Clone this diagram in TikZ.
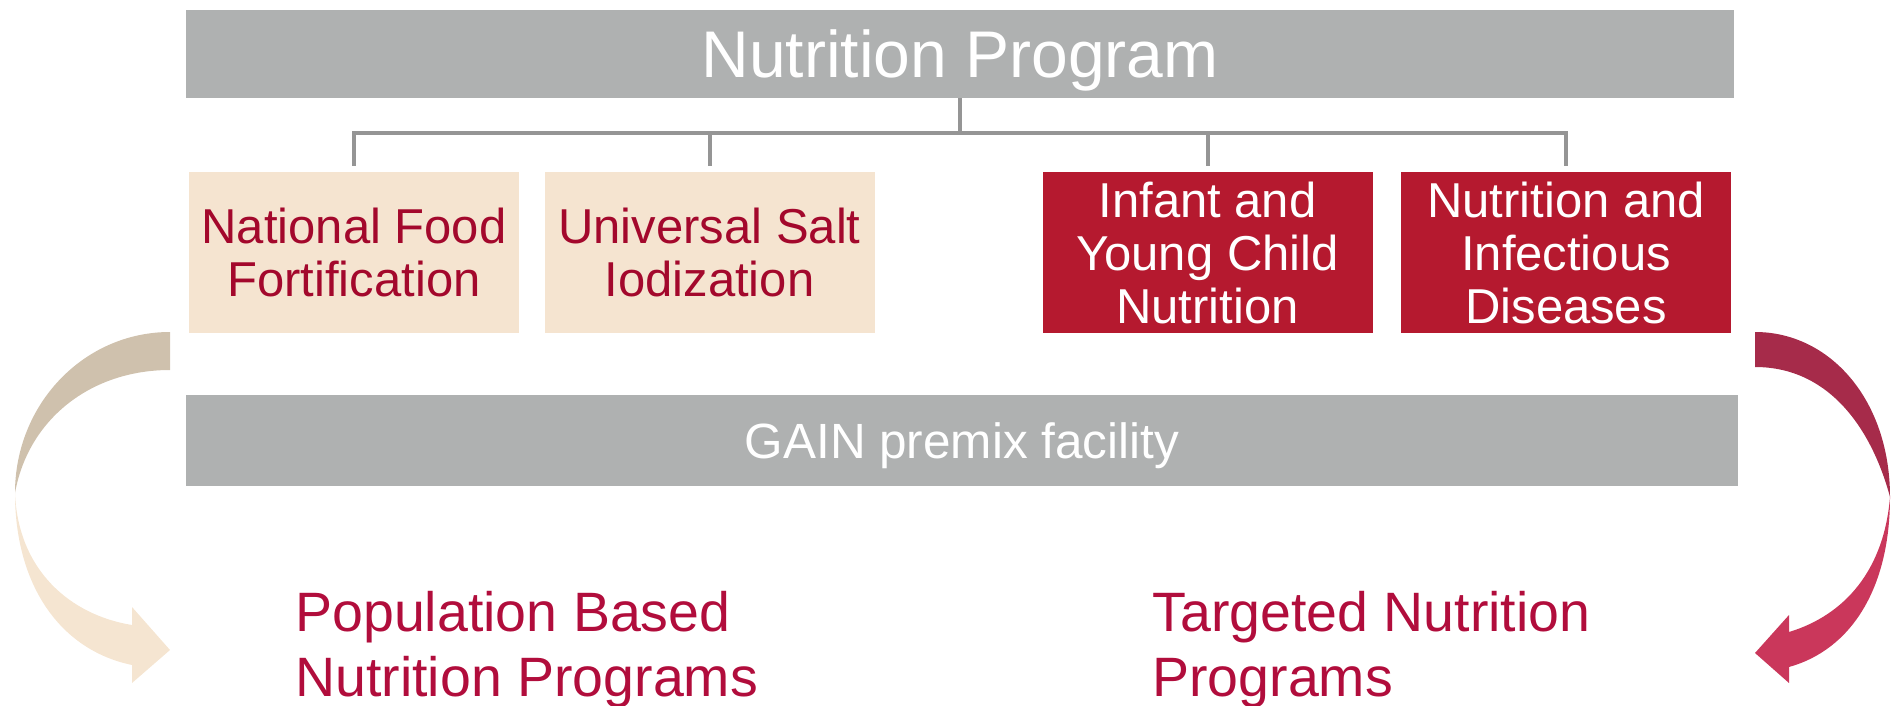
\documentclass[tikz,border=0pt]{standalone}
\usepackage{fontspec}
\setmainfont{Liberation Sans}
\definecolor{bargray}{HTML}{AFB1B1}
\definecolor{conngray}{HTML}{959595}
\definecolor{beige}{HTML}{F5E4D0}
\definecolor{boxred}{HTML}{B5192F}
\definecolor{txtred}{HTML}{A3082C}
\definecolor{bottomred}{HTML}{B10D3C}
\definecolor{tandark}{HTML}{CFC1AD}
\definecolor{tanlight}{HTML}{F5E5D1}
\definecolor{reddark}{HTML}{A62B4A}
\definecolor{redlight}{HTML}{CA375B}
\begin{document}
\begin{tikzpicture}[x=0.5pt,y=-0.5pt,
  bar/.style={fill=bargray, draw=none, inner sep=0pt, text=white, text depth=0pt},
  prog/.style={draw=none, inner sep=0pt, minimum width=165pt, minimum height=80.5pt,
    align=center, font=\fontsize{24.5}{26.5}\selectfont},
  popbox/.style={prog, fill=beige, text=txtred},
  tgtbox/.style={prog, fill=boxred, text=white},
  conn/.style={draw=conngray, line width=2pt},
  outcome/.style={inner sep=0pt, align=left, text=bottomred, anchor=north west,
    font=\fontsize{27.75}{32.5}\selectfont}]
\useasboundingbox (0,0) rectangle (1892,706);

% bars
\node[bar, minimum width=774pt, minimum height=44pt, text height=23.7pt,
  font=\fontsize{33}{36}\selectfont]
  (title) at (960,54) {Nutrition Program};
\node[bar, minimum width=776pt, minimum height=45.5pt, text height=17.8pt,
  font=\fontsize{24.75}{28}\selectfont]
  (gain) at (962,440.5) {GAIN premix facility};

% program boxes
\node[popbox] (b1) at (354,252.5) {National Food\\Fortification};
\node[popbox] (b2) at (709.5,252.5) {Universal Salt\\Iodization};
\node[tgtbox] (b3) at (1207.5,252.5) {Infant and\\Young Child\\Nutrition};
\node[tgtbox] (b4) at (1566,252.5) {Nutrition and\\Infectious\\Diseases};

% connectors
\coordinate (bus) at (960,133);
\draw[conn] (title.south) -- (bus);
\draw[conn] ([yshift=3pt]b1.north) -- (b1.north |- bus) -- (b4.north |- bus) -- ([yshift=3pt]b4.north);
\draw[conn] ([yshift=3pt]b2.north) -- (b2.north |- bus);
\draw[conn] ([yshift=3pt]b3.north) -- (b3.north |- bus);

% left curved arrow
\fill[tandark] (170,332) .. controls (84,332) and (15,404) .. (15,493)
  .. controls (28,420) and (90,370) .. (170,370) -- cycle;
\fill[tanlight] (15,493) .. controls (15,585) and (60,650) .. (132,665)
  -- (132,683) -- (170,650) -- (132,607) -- (132,625)
  .. controls (70,615) and (18,570) .. (15,493) -- cycle;

% right curved arrow
\fill[reddark] (1755,332) .. controls (1830,332) and (1890,400) .. (1890,497)
  .. controls (1872,430) and (1830,367) .. (1755,367) -- cycle;
\fill[redlight] (1890,497) .. controls (1890,590) and (1850,650) .. (1789,667)
  -- (1789,683) -- (1755,653) -- (1789,615) -- (1789,632)
  .. controls (1845,615) and (1884,570) .. (1890,497) -- cycle;

% outcomes
\node[outcome] (pop) at (295,591) {Population Based\\Nutrition Programs};
\node[outcome] (tgt) at (1152,591) {Targeted Nutrition\\Programs};
\end{tikzpicture}
\end{document}
